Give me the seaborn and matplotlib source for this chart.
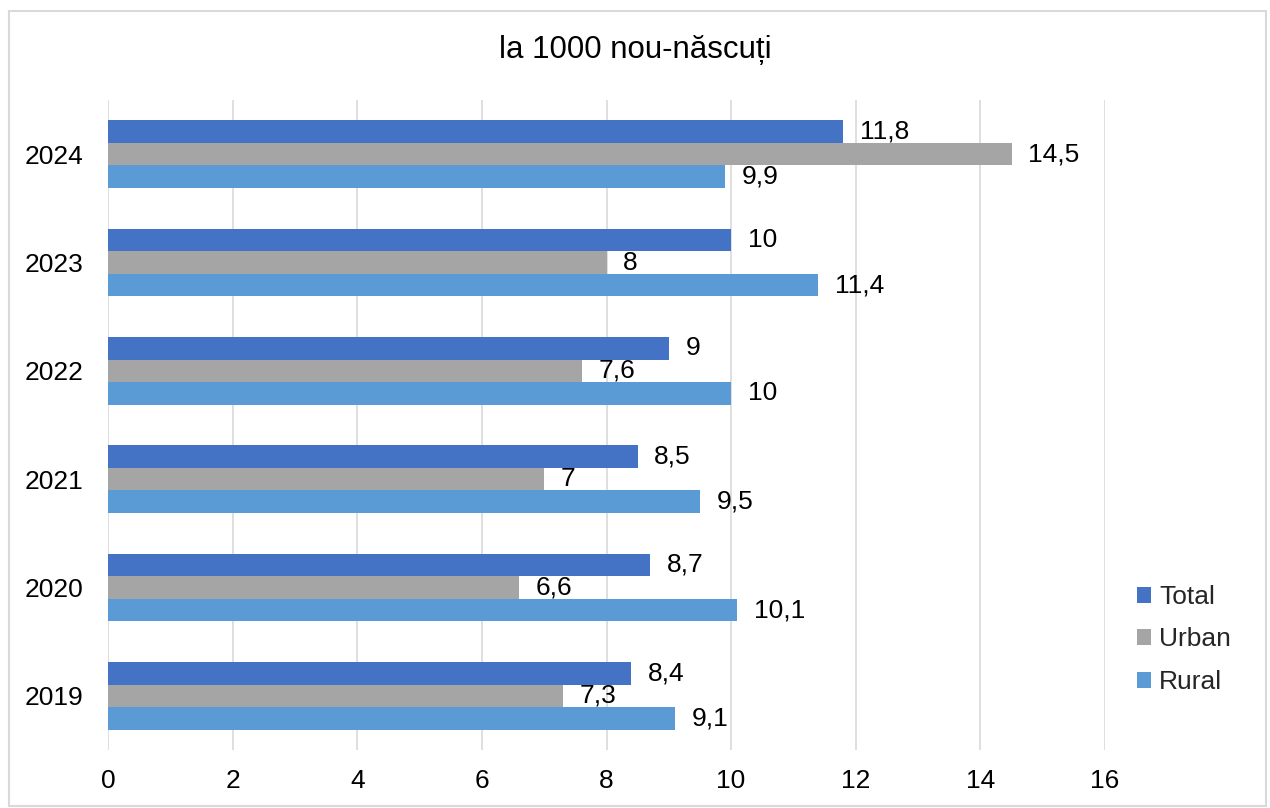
import matplotlib
matplotlib.use("Agg")
import matplotlib.pyplot as plt
import seaborn as sns
import pandas as pd
from matplotlib.patches import Rectangle

years = ["2024", "2023", "2022", "2021", "2020", "2019"]
total = [11.8, 10, 9, 8.5, 8.7, 8.4]
urban = [14.5, 8, 7.6, 7, 6.6, 7.3]
rural = [9.9, 11.4, 10, 9.5, 10.1, 9.1]
series = ["Total", "Urban", "Rural"]
colors = ["#4472C4", "#A5A5A5", "#5B9BD5"]
title = "la 1000 nou-născuți"

rows = []
for name, vals in zip(series, [total, urban, rural]):
    for y, v in zip(years, vals):
        rows.append({"year": y, "value": v, "series": name})
df = pd.DataFrame(rows)

sns.set_theme(style="white")
plt.rcParams["font.family"] = ["Liberation Sans", "DejaVu Sans"]

fig = plt.figure(figsize=(12.7, 8.08), dpi=100)
ax = fig.add_axes([108 / 1270, 1 - 750 / 808, (1105 - 108) / 1270, 650 / 808])

sns.barplot(data=df, x="value", y="year", hue="series", order=years,
            hue_order=series, palette=colors, orient="h", width=0.625,
            saturation=1, ax=ax, legend=True, linewidth=0)

def fmt(v):
    s = f"{v:.1f}".replace(".", ",")
    if s.endswith(",0"):
        s = s[:-2]
    return s

FS = 19
for cont in ax.containers:
    ax.bar_label(cont, labels=[fmt(r.get_width()) for r in cont], padding=12,
                 fontsize=FS, color="#000000")

ax.set_xlim(0, 16)
ax.set_xticks(range(0, 17, 2))
ax.set_ylim(5.5, -0.5)
ax.set_xlabel("")
ax.set_ylabel("")
ax.grid(axis="x", color="#D9D9D9", linewidth=1.2)
ax.set_axisbelow(True)
for s in ax.spines.values():
    s.set_visible(False)
ax.tick_params(axis="both", length=0, labelsize=FS, colors="#000000")
ax.tick_params(axis="x", pad=14)
ax.tick_params(axis="y", pad=18)

leg = ax.legend(loc="center left", bbox_to_anchor=(1.008, 0.17), frameon=False,
                fontsize=FS, handlelength=0.55, handleheight=0.55,
                handletextpad=0.3, labelspacing=0.7)

fig.text(0.5, 1 - 50 / 808, title, ha="center", va="center", fontsize=22.5,
         color="#000000")

fig.patches.append(Rectangle((0.007, 0.003), 0.99, 0.983, transform=fig.transFigure,
                             fill=False, edgecolor="#D9D9D9", linewidth=1.5))

fig.savefig("out.png", dpi=100)
